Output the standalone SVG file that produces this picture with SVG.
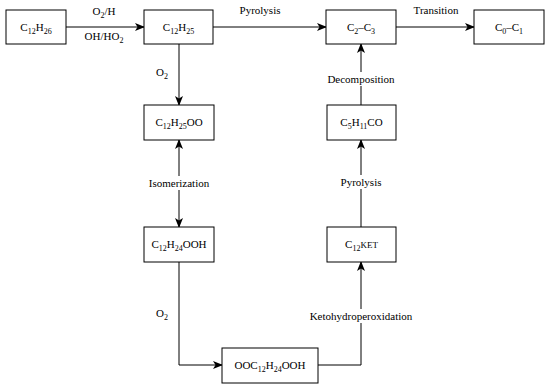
<svg xmlns="http://www.w3.org/2000/svg" width="550" height="387" viewBox="0 0 550 387" font-family="'Liberation Serif', 'DejaVu Serif', serif">
<style>
.box{fill:#fff;stroke:#000;stroke-width:1}
.ln{fill:none;stroke:#000;stroke-width:1}
text{font-family:'Liberation Serif','DejaVu Serif',serif;font-size:11px;fill:#000;text-anchor:middle}
.sub{font-size:8px}
.lbg{fill:#fff}
</style>
<defs>
<marker id="ah" markerUnits="userSpaceOnUse" markerWidth="10" markerHeight="10" viewBox="0 0 10 10" refX="9" refY="5" orient="auto-start-reverse">
<path d="M0,1 L10,5 L0,9 L2.5,5 z" fill="#000"/>
</marker>
</defs>
<rect width="550" height="387" fill="#fff"/>
<g id="connectors">
<line class="ln" x1="66" y1="27" x2="144" y2="27" marker-end="url(#ah)"/>
<line class="ln" x1="213" y1="27" x2="326" y2="27" marker-end="url(#ah)"/>
<line class="ln" x1="396" y1="27" x2="474" y2="27" marker-end="url(#ah)"/>
<line class="ln" x1="179" y1="44" x2="179" y2="105" marker-end="url(#ah)"/>
<line class="ln" x1="179" y1="140" x2="179" y2="227" marker-start="url(#ah)" marker-end="url(#ah)"/>
<polyline class="ln" points="179,262 179,365 222,365" marker-end="url(#ah)"/>
<polyline class="ln" points="318,365 361,365 361,262" marker-end="url(#ah)"/>
<line class="ln" x1="361" y1="227" x2="361" y2="140" marker-end="url(#ah)"/>
<line class="ln" x1="361" y1="105" x2="361" y2="44" marker-end="url(#ah)"/>
<rect class="lbg" x="146" y="176" width="66" height="14"/>
<rect class="lbg" x="338" y="175" width="46" height="14"/>
<rect class="lbg" x="325" y="72" width="72" height="14"/>
<rect class="lbg" x="306" y="309" width="110" height="14"/>
<text x="104" y="15">O<tspan class="sub" dy="3">2</tspan><tspan dy="-3">/H</tspan></text>
<text x="104" y="40">OH/HO<tspan class="sub" dy="3">2</tspan></text>
<text x="260" y="14">Pyrolysis</text>
<text x="436" y="14">Transition</text>
<text x="162" y="76">O<tspan class="sub" dy="3">2</tspan></text>
<text x="361" y="83">Decomposition</text>
<text x="179" y="187">Isomerization</text>
<text x="361" y="186">Pyrolysis</text>
<text x="162" y="317">O<tspan class="sub" dy="3">2</tspan></text>
<text x="361" y="320">Ketohydroperoxidation</text>
</g>
<g id="n1"><rect class="box" x="6" y="10" width="60" height="34"/>
<text x="36" y="31">C<tspan class="sub" dy="3">12</tspan><tspan dy="-3">H</tspan><tspan class="sub" dy="3">26</tspan></text></g>
<g id="n2"><rect class="box" x="144" y="10" width="69" height="34"/>
<text x="178.5" y="31">C<tspan class="sub" dy="3">12</tspan><tspan dy="-3">H</tspan><tspan class="sub" dy="3">25</tspan></text></g>
<g id="n3"><rect class="box" x="326" y="10" width="70" height="34"/>
<text x="361" y="31">C<tspan class="sub" dy="3">2</tspan><tspan dy="-3">–C</tspan><tspan class="sub" dy="3">3</tspan></text></g>
<g id="n4"><rect class="box" x="474" y="10" width="70" height="34"/>
<text x="509" y="31">C<tspan class="sub" dy="3">0</tspan><tspan dy="-3">–C</tspan><tspan class="sub" dy="3">1</tspan></text></g>
<g id="n5"><rect class="box" x="144" y="105" width="70" height="35"/>
<text x="179" y="126">C<tspan class="sub" dy="3">12</tspan><tspan dy="-3">H</tspan><tspan class="sub" dy="3">25</tspan><tspan dy="-3">OO</tspan></text></g>
<g id="n6"><rect class="box" x="144" y="227" width="70" height="35"/>
<text x="179" y="248">C<tspan class="sub" dy="3">12</tspan><tspan dy="-3">H</tspan><tspan class="sub" dy="3">24</tspan><tspan dy="-3">OOH</tspan></text></g>
<g id="n7"><rect class="box" x="222" y="348" width="96" height="35"/>
<text x="270" y="369">OOC<tspan class="sub" dy="3">12</tspan><tspan dy="-3">H</tspan><tspan class="sub" dy="3">24</tspan><tspan dy="-3">OOH</tspan></text></g>
<g id="n8"><rect class="box" x="327" y="227" width="69" height="35"/>
<text x="361.5" y="248">C<tspan class="sub" dy="3">12</tspan><tspan dy="-3" font-size="9">KET</tspan></text></g>
<g id="n9"><rect class="box" x="327" y="105" width="69" height="35"/>
<text x="361.5" y="126">C<tspan class="sub" dy="3">5</tspan><tspan dy="-3">H</tspan><tspan class="sub" dy="3">11</tspan><tspan dy="-3">CO</tspan></text></g>
</svg>
